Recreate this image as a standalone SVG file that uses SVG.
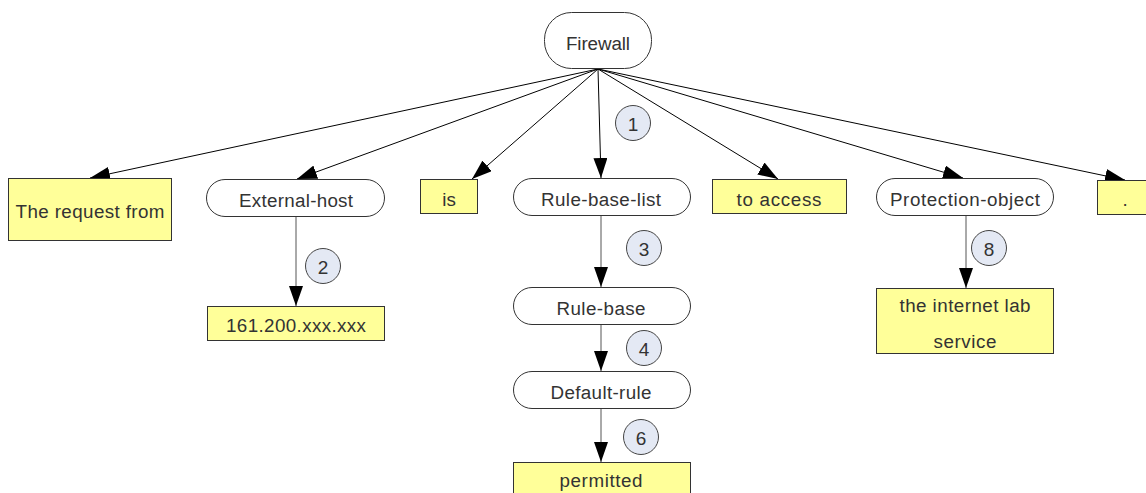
<svg xmlns="http://www.w3.org/2000/svg" width="1146" height="493" viewBox="0 0 1146 493">
  <style>
    .pill { fill: #ffffff; stroke: #333333; stroke-width: 1; }
    .box { fill: #ffff99; stroke: #333333; stroke-width: 1; }
    .badge { fill: #e4e9f4; stroke: #444444; stroke-width: 1; }
    .lbl { font-family: "Liberation Sans", Arial, sans-serif; font-size: 18.8px; fill: #333333; text-anchor: middle; }
    .num { font-family: "Liberation Sans", Arial, sans-serif; font-size: 19px; fill: #333333; text-anchor: middle; }
    .edge { stroke: #000000; stroke-width: 1; fill: none; marker-end: url(#arrow); }
    .edge-v { stroke: #555555; stroke-width: 1; fill: none; marker-end: url(#arrow); }
  </style>
  <defs>
    <marker id="arrow" viewBox="0 0 20 14" refX="20" refY="7" markerWidth="20" markerHeight="14" markerUnits="userSpaceOnUse" orient="auto">
      <path d="M0,0 L20,7 L0,14 Z" fill="#000000"/>
    </marker>
  </defs>
  <rect width="1146" height="493" fill="#ffffff"/>

  <!-- connectors -->
  <g id="connectors">
    <line class="edge" x1="598" y1="69" x2="90" y2="178"/>
    <line class="edge" x1="598" y1="69" x2="297" y2="179"/>
    <line class="edge" x1="598" y1="69" x2="472" y2="179"/>
    <line class="edge" x1="598" y1="69" x2="601" y2="178"/>
    <line class="edge" x1="598" y1="69" x2="778" y2="179"/>
    <line class="edge" x1="598" y1="69" x2="963" y2="178"/>
    <line class="edge" x1="598" y1="69" x2="1125" y2="180"/>
    <line class="edge-v" x1="296" y1="217" x2="296" y2="306"/>
    <line class="edge-v" x1="601" y1="215" x2="601" y2="287"/>
    <line class="edge-v" x1="601" y1="324" x2="601" y2="371"/>
    <line class="edge-v" x1="601" y1="408" x2="601" y2="462"/>
    <line class="edge-v" x1="966" y1="216" x2="966" y2="288"/>
  </g>

  <!-- step badges -->
  <g id="badges">
    <circle class="badge" cx="633" cy="123" r="17.5"/><text class="num" x="633" y="130.5">1</text>
    <circle class="badge" cx="323" cy="266" r="17.5"/><text class="num" x="323" y="273.5">2</text>
    <circle class="badge" cx="644" cy="248" r="17.5"/><text class="num" x="644" y="255.5">3</text>
    <circle class="badge" cx="644" cy="348" r="17.5"/><text class="num" x="644" y="355.5">4</text>
    <circle class="badge" cx="641" cy="437" r="17.5"/><text class="num" x="641" y="444.5">6</text>
    <circle class="badge" cx="989" cy="248" r="17.5"/><text class="num" x="989" y="255.5">8</text>
  </g>

  <g id="firewall">
    <rect class="pill" x="544.5" y="12.5" width="107" height="56" rx="27"/>
    <text class="lbl" x="598" y="49.5" textLength="64" lengthAdjust="spacing">Firewall</text>
  </g>
  <g id="request-from">
    <rect class="box" x="8.5" y="178.5" width="163" height="62"/>
    <text class="lbl" x="90" y="218" textLength="149" lengthAdjust="spacing">The request from</text>
  </g>
  <g id="external-host">
    <rect class="pill" x="206.5" y="179.5" width="178" height="37" rx="18.5"/>
    <text class="lbl" x="296" y="207" textLength="114" lengthAdjust="spacing">External-host</text>
  </g>
  <g id="host-address">
    <rect class="box" x="207.5" y="306.5" width="177" height="34"/>
    <text class="lbl" x="296" y="332" textLength="140" lengthAdjust="spacing">161.200.xxx.xxx</text>
  </g>
  <g id="is">
    <rect class="box" x="420.5" y="179.5" width="57" height="34"/>
    <text class="lbl" x="449" y="206">is</text>
  </g>
  <g id="rule-base-list">
    <rect class="pill" x="513.5" y="178.5" width="177" height="37" rx="18.5"/>
    <text class="lbl" x="601" y="206" textLength="120" lengthAdjust="spacing">Rule-base-list</text>
  </g>
  <g id="rule-base">
    <rect class="pill" x="513.5" y="287.5" width="177" height="37" rx="18.5"/>
    <text class="lbl" x="601" y="315" textLength="89" lengthAdjust="spacing">Rule-base</text>
  </g>
  <g id="default-rule">
    <rect class="pill" x="513.5" y="371.5" width="177" height="37" rx="18.5"/>
    <text class="lbl" x="601" y="399" textLength="101" lengthAdjust="spacing">Default-rule</text>
  </g>
  <g id="permitted">
    <rect class="box" x="513.5" y="462.5" width="177" height="40"/>
    <text class="lbl" x="601" y="487" textLength="83" lengthAdjust="spacing">permitted</text>
  </g>
  <g id="to-access">
    <rect class="box" x="712.5" y="179.5" width="134" height="34"/>
    <text class="lbl" x="779" y="206" textLength="85" lengthAdjust="spacing">to access</text>
  </g>
  <g id="protection-object">
    <rect class="pill" x="876.5" y="178.5" width="177" height="37" rx="18.5"/>
    <text class="lbl" x="965" y="206" textLength="150" lengthAdjust="spacing">Protection-object</text>
  </g>
  <g id="internet-lab-service">
    <rect class="box" x="876.5" y="288.5" width="177" height="65"/>
    <text class="lbl" x="965" y="312" textLength="131" lengthAdjust="spacing">the internet lab</text>
    <text class="lbl" x="965" y="348" textLength="63" lengthAdjust="spacing">service</text>
  </g>
  <g id="period">
    <rect class="box" x="1097.5" y="180.5" width="60" height="34"/>
    <text class="lbl" x="1125" y="206">.</text>
  </g>
</svg>
